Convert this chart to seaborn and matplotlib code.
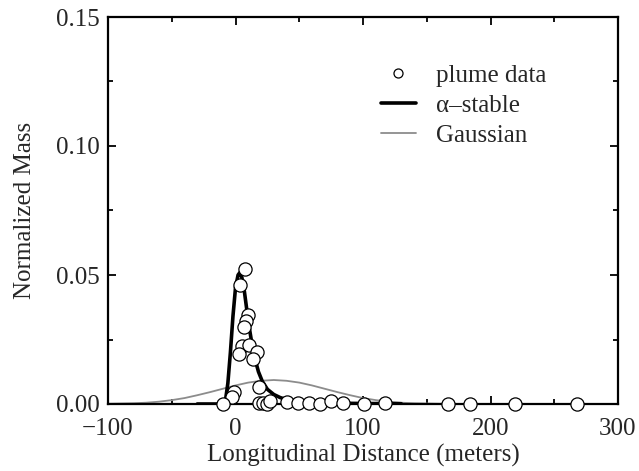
import numpy as np
import pandas as pd
import seaborn as sns
import matplotlib
matplotlib.use("Agg")
import matplotlib.pyplot as plt
from matplotlib.lines import Line2D
from matplotlib.ticker import MultipleLocator, FormatStrFormatter

# plume data
plume_x = [7.5, 3.8, 10.0, 8.2, 6.9, 4.8, 10.8, 16.6, 2.5, 13.5,
           18.2, -0.9, -2.5, -9.6, 18.7, 21.8, 24.5, 27.0, 40.0, 49.0,
           58.0, 66.0, 75.0, 84.0, 101.0, 117.0, 167.0, 184.0, 219.0, 268.0]
plume_y = [0.0525, 0.0463, 0.0346, 0.0320, 0.0300, 0.0223, 0.0227, 0.0200, 0.0193, 0.0175,
           0.0067, 0.0048, 0.0028, 0.0000, 0.0005, 0.0002, 0.0000, 0.0010, 0.0007, 0.0002,
           0.0005, 0.0000, 0.0010, 0.0002, 0.0000, 0.0002, 0.0000, 0.0000, 0.0000, 0.0000]

# alpha-stable fit curve
stable_x = [-30, -15, -10, -8, -6, -4, -2, 0, 2, 3.5, 5, 7, 9, 11, 13, 15,
            18, 21, 25, 30, 35, 40, 50, 60, 80, 100, 130]
stable_y = [0.0, 0.0, 0.0002, 0.001, 0.008, 0.020, 0.034, 0.045, 0.050, 0.051,
            0.049, 0.0435, 0.036, 0.029, 0.023, 0.018, 0.0125, 0.0088, 0.0057,
            0.0037, 0.0025, 0.0017, 0.0010, 0.0006, 0.0003, 0.0002, 0.0001]

# gaussian fit curve
gauss_x = [-100, -90, -80, -70, -60, -50, -40, -30, -20, -10, 0, 10, 20, 30,
           40, 50, 60, 70, 80, 90, 100, 110, 120, 130, 140, 150, 160, 180, 200, 300]
gauss_y = [0.0001, 0.0002, 0.0003, 0.0005, 0.0009, 0.0015, 0.0023, 0.0034, 0.0046,
           0.0059, 0.0072, 0.0083, 0.0090, 0.0093, 0.0090, 0.0083, 0.0072, 0.0059,
           0.0046, 0.0034, 0.0023, 0.0015, 0.0009, 0.0005, 0.0003, 0.0002, 0.0001,
           0.0, 0.0, 0.0]

x_ticks = [-100, 0, 100, 200, 300]
x_tick_labels = ["\u2212100", "0", "100", "200", "300"]
y_ticks = [0.00, 0.05, 0.10, 0.15]

df_plume = pd.DataFrame({"x": plume_x, "y": plume_y})
df_stable = pd.DataFrame({"x": stable_x, "y": stable_y})
df_gauss = pd.DataFrame({"x": gauss_x, "y": gauss_y})

sns.set_style("ticks")
plt.rcParams["font.family"] = ["Liberation Serif", "DejaVu Serif"]
FS = 18

fig = plt.figure(figsize=(6.39, 4.71), dpi=100)
ax = fig.add_axes([108 / 639, 1 - 404 / 471, 510 / 639, 387 / 471])

sns.lineplot(data=df_gauss, x="x", y="y", ax=ax, color="#8c8c8c", lw=1.3,
             sort=False, zorder=2)
sns.lineplot(data=df_stable, x="x", y="y", ax=ax, color="black", lw=2.6,
             sort=False, zorder=3)
sns.scatterplot(data=df_plume, x="x", y="y", ax=ax, s=90, color="white",
                edgecolor="black", linewidth=0.9, zorder=5, clip_on=False)

ax.set_xlim(-100, 300)
ax.set_ylim(0, 0.15)
ax.set_xticks(x_ticks)
ax.set_xticklabels(x_tick_labels)
ax.set_yticks(y_ticks)
ax.yaxis.set_major_formatter(FormatStrFormatter("%.2f"))
ax.xaxis.set_minor_locator(MultipleLocator(50))
ax.yaxis.set_minor_locator(MultipleLocator(0.025))
ax.tick_params(which="both", direction="in", top=True, right=True,
               labelsize=FS, width=1.3, color="black")
ax.tick_params(axis="x", which="both", pad=10)
ax.tick_params(axis="y", which="both", pad=6)
ax.tick_params(which="major", length=6)
ax.tick_params(which="minor", length=3.5)
for sp in ax.spines.values():
    sp.set_linewidth(1.6)
    sp.set_color("black")
    sp.set_visible(True)

ax.set_xlabel("Longitudinal Distance (meters)", fontsize=FS, labelpad=3)
ax.set_ylabel("Normalized Mass", fontsize=FS, labelpad=14)

handles = [
    Line2D([], [], ls="none", marker="o", markersize=6.5, markerfacecolor="white",
           markeredgecolor="black", markeredgewidth=0.9),
    Line2D([], [], color="black", lw=2.6),
    Line2D([], [], color="#8c8c8c", lw=1.3),
]
ax.legend(handles, ["plume data", "\u03b1\u2013stable", "Gaussian"],
          loc="upper left", bbox_to_anchor=(0.535, 0.878), frameon=False,
          fontsize=FS, handlelength=1.4, handletextpad=0.8, labelspacing=0.3,
          borderpad=0, borderaxespad=0)

fig.savefig("out.png", dpi=100)
